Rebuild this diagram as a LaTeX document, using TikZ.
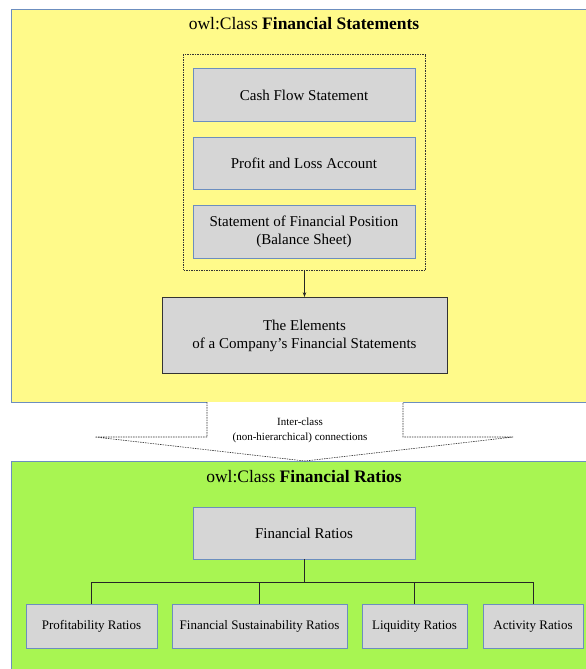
\documentclass[tikz,border=0pt]{standalone}
\usepackage{fontspec}
\setmainfont{Liberation Serif}
\usetikzlibrary{arrows.meta}
\definecolor{ybg}{HTML}{FFFA8A}
\definecolor{gbg}{HTML}{A8F552}
\definecolor{boxfill}{HTML}{D6D6D6}
\definecolor{boxline}{HTML}{6C8EBF}
\tikzset{
  cls/.style={draw=boxline, line width=0.8pt},
  item/.style={draw=boxline, fill=boxfill, line width=0.8pt, align=center, inner sep=0pt, font=\fontsize{15}{18}\selectfont},
  smallitem/.style={item, font=\fontsize{13}{16}\selectfont, text height=9pt, text depth=3pt},
  title/.style={font=\fontsize{17.5}{21}\selectfont, anchor=center},
  link/.style={draw=black!85, line width=0.8pt},
  dashbox/.style={draw=black!80, dash pattern=on 1.5pt off 1pt, line width=0.6pt},
}
\begin{document}
\begin{tikzpicture}[x=1pt,y=-1pt]
\useasboundingbox (0,0) rectangle (586,669);
\clip (0,0) rectangle (586,669);
\fill[white] (0,0) rectangle (586,669);
% yellow class
\draw[cls, fill=ybg] (11,9) rectangle (600,402);
\node[title] (t1) at (304,24) {owl:Class \textbf{Financial Statements}};
\node[dashbox, minimum width=242pt, minimum height=216pt, inner sep=0pt] (grp) at (304.5,162) {};
\node[item, minimum width=222pt, minimum height=53pt] (cf) at (304,95) {Cash Flow Statement};
\node[item, minimum width=222pt, minimum height=52pt] (pl) at (304,163.5) {Profit and Loss Account};
\node[item, minimum width=222pt, minimum height=53pt] (sfp) at (304,231.5) {Statement of Financial Position\\(Balance Sheet)};
\node[item, draw=black!80, minimum width=285pt, minimum height=76pt] (el) at (304.5,335.5) {The Elements\\of a Company's Financial Statements};
\draw[link, -{Stealth[length=5pt,width=3.5pt]}] (grp.south) -- (el.north);
% green class
\draw[cls, fill=gbg] (11,461) rectangle (600,680);
\node[title] (t2) at (304,477) {owl:Class \textbf{Financial Ratios}};
\node[item, minimum width=222pt, minimum height=52pt] (fr) at (304,533) {Financial Ratios};
\node[smallitem, minimum width=131pt, minimum height=44pt] (pr) at (91.5,626) {Profitability Ratios};
\node[smallitem, minimum width=175pt, minimum height=44pt] (fs) at (259.5,626) {Financial Sustainability Ratios};
\node[smallitem, minimum width=105pt, minimum height=44pt] (lr) at (414.5,626) {Liquidity Ratios};
\node[smallitem, minimum width=100pt, minimum height=44pt] (ar) at (533,626) {Activity Ratios};
\coordinate (bus) at (304,582.5);
\draw[link] (fr.south) -- (bus);
\draw[link] (pr.north) |- (bus) -| (ar.north);
\draw[link] (fs.north) -- (fs.north |- bus);
\draw[link] (lr.north) -- (lr.north |- bus);
% inter-class arrow
\coordinate (a1) at (207,402);
\coordinate (a2) at (207,437);
\coordinate (a3) at (95,437);
\coordinate (tip) at (305,461);
\coordinate (a5) at (513,437);
\coordinate (a6) at (403,437);
\coordinate (a7) at (403,402);
\fill[white] (a1) -- (a2) -- (a3) -- (tip) -- (a5) -- (a6) -- (a7) -- cycle;
\draw[dashbox] (a1) -- (a2) -- (a3) -- (tip) -- (a5) -- (a6) -- (a7);
\node[font=\fontsize{11}{14.5}\selectfont, align=center] (ic) at (300,430.5) {Inter-class\\(non-hierarchical) connections};
\end{tikzpicture}
\end{document}
